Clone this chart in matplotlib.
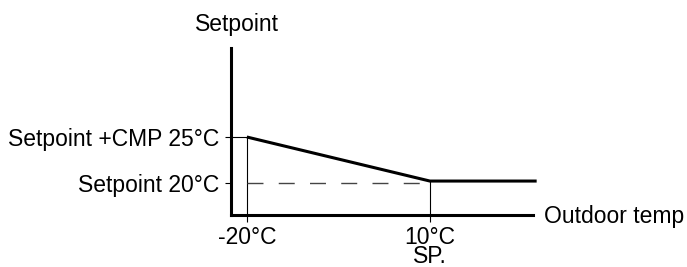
import matplotlib.pyplot as plt

plt.rcParams['font.family'] = ['Liberation Sans', 'DejaVu Sans']

# curve: outdoor temp -> setpoint
curve_x = [-20, 10, 27.5]
curve_y = [25, 20.2, 20.2]
base_setpoint = 20
cmp_setpoint = 25
ytick_vals = [20, 25]
ytick_labels = ['Setpoint 20°C', 'Setpoint +CMP 25°C']
xtick_vals = [-20, 10]
xtick_labels = ['-20°C', '10°C\nSP.']

W, H = 687, 267
fig = plt.figure(figsize=(W / 100, H / 100), dpi=100)
ax = fig.add_axes([231 / W, (H - 215) / H, (533 - 231) / W, (215 - 48) / H])
ax.set_xlim(-22.6, 26.9)
ax.set_ylim(16.5, 34.7)

for s in ['top', 'right']:
    ax.spines[s].set_visible(False)
for s in ['left', 'bottom']:
    ax.spines[s].set_linewidth(2.2)

ax.set_yticks(ytick_vals)
ax.set_yticklabels(ytick_labels)
ax.set_xticks(xtick_vals)
ax.set_xticklabels(xtick_labels)
ax.tick_params(axis='y', length=4, width=0.8, pad=4.5, labelsize=16.5)
ax.tick_params(axis='x', length=5, width=0.8, pad=3, labelsize=16.5)
for lbl in ax.get_xticklabels():
    lbl.set_linespacing(0.76)

# main curve
ax.plot(curve_x, curve_y, color='black', lw=2.2, clip_on=False, solid_capstyle='butt')
# thin guide lines
ax.plot([-22.6, -20], [cmp_setpoint, cmp_setpoint], color='black', lw=0.8, clip_on=False)
ax.plot([-20, -20], [16.5, cmp_setpoint], color='black', lw=0.8, clip_on=False)
ax.plot([10, 10], [16.5, curve_y[1]], color='black', lw=0.8, clip_on=False)
# dashed base setpoint
ax.plot([-20, 10], [base_setpoint, base_setpoint], color='#444444', lw=1.0,
        dashes=(11.5, 11), clip_on=False)

fig.text(237 / W, 1 - 25 / H, 'Setpoint', fontsize=16.5, ha='center', va='center')
fig.text(544 / W, 1 - 216 / H, 'Outdoor temp', fontsize=16.5, ha='left', va='center')

fig.savefig('out.png', dpi=100)
